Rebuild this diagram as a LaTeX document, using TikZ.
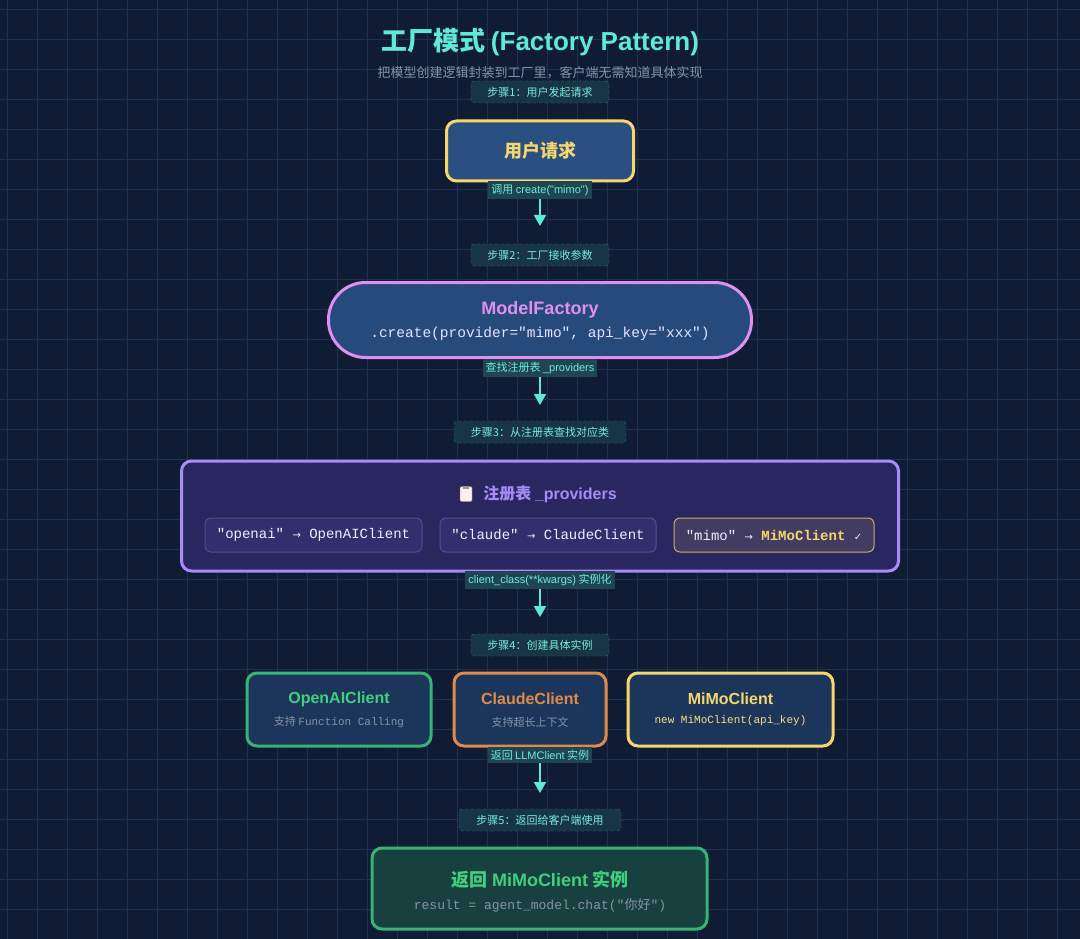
\documentclass[tikz,border=0pt]{standalone}
\usepackage{fontspec}
\setmainfont{Noto Sans CJK SC}
\setsansfont{Noto Sans CJK SC}
\setmonofont{Liberation Mono}
\newfontfamily\cjk{Noto Sans CJK SC}
\newfontfamily\lat{Liberation Sans}
\newfontfamily\djv{DejaVu Sans}
\usetikzlibrary{arrows.meta}
\definecolor{bg}{HTML}{0F1C33}
\definecolor{gridc}{HTML}{1E3152}
\definecolor{teal}{HTML}{5EEAD4}
\definecolor{yel}{HTML}{F5D76E}
\definecolor{vio}{HTML}{A78BFA}
\definecolor{pink}{HTML}{E08FF0}
\definecolor{grn}{HTML}{3ECF7F}
\definecolor{org}{HTML}{E08A4A}
\definecolor{sub}{HTML}{8494A8}
\definecolor{ufill}{HTML}{2A5082}
\definecolor{ffill}{HTML}{264A7C}
\definecolor{cfill}{HTML}{1C355A}
\definecolor{rfill}{HTML}{2A2660}
\definecolor{efill}{HTML}{332F6E}
\definecolor{gfill}{HTML}{17403F}
\tikzset{
 step/.style={draw=teal!45!bg,dashed,fill=teal!12!bg,rounded corners=3,minimum width=#1,minimum height=22,text=teal!85!white,inner sep=0pt,font=\fontsize{11}{11}\selectfont},
 lab/.style={fill=teal!20!bg,text=teal!90!white,minimum height=16,inner sep=3pt,font=\fontsize{11}{11}\selectfont},
 arr/.style={teal,line width=2,-{Triangle[width=12,length=11]}},
 entry/.style={draw=vio!35!rfill,fill=efill,rounded corners=6,line width=1,minimum height=34,inner sep=0pt,font=\fontsize{14}{14}\ttfamily,text=white!85!vio},
 client/.style={draw=#1,line width=3,fill=cfill,rounded corners=10,minimum height=73,inner sep=0pt},
}
\begin{document}
\begin{tikzpicture}[x=1pt,y=-1pt]
\fill[bg] (0,0) rectangle (1080,939);
\useasboundingbox (0,0) rectangle (1080,939);
\foreach \i in {0,...,36} \draw[gridc,line width=0.8] (\i*30+7,0) -- (\i*30+7,939);
\foreach \i in {0,...,31} \draw[gridc,line width=0.8] (0,\i*30+9) -- (1080,\i*30+9);

\node[text=teal] (title) at (540,42) {\fontsize{26}{26}\selectfont\bfseries 工厂模式 {\lat (Factory Pattern)}};
\node[text=sub] (subt) at (540,73) {\fontsize{13}{13}\selectfont 把模型创建逻辑封装到工厂里，客户端无需知道具体实现};

\node[step=138] (s1) at (540,92) {步骤1：用户发起请求};
\node[draw=yel,line width=3,fill=ufill,rounded corners=10,minimum width=187,minimum height=60,text=yel] (user) at (540,151) {\fontsize{18}{18}\selectfont\bfseries 用户请求};
\node[lab] (l1) at (540,190) {调用 {\lat create("mimo")}};
\coordinate (a1) at (540,226);
\draw[arr] (l1.south) -- (a1);

\node[step=138] (s2) at (540,255) {步骤2：工厂接收参数};
\node[draw=pink,line width=3,fill=ffill,rounded corners=37,minimum width=423,minimum height=75] (fac) at (540,320) {};
\node[text=pink] (facT) at (540,310) {\fontsize{18}{18}\selectfont\bfseries\lat ModelFactory};
\node[text=white!90!blue] (facC) at (540,334) {\fontsize{14.5}{14.5}\ttfamily .create(provider="mimo", api\_key="xxx")};
\node[lab] (l2) at (540,368) {查找注册表 {\lat \_providers}};
\coordinate (a2) at (540,405);
\draw[arr] (l2.south) -- (a2);

\node[step=172] (s3) at (540,432) {步骤3：从注册表查找对应类};
\node[draw=vio,line width=3,fill=rfill,rounded corners=10,minimum width=717,minimum height=110] (reg) at (540,516) {};
\node[text=vio] (regT) at (550,494) {\fontsize{16}{16}\selectfont\bfseries 注册表 {\lat\_providers}};
\node[draw=brown!70!black,fill=white!90!brown,minimum width=12,minimum height=15,inner sep=0pt,rounded corners=1] (clip) at (466,494) {};
\node[fill=gray!80,minimum width=6,minimum height=3,inner sep=0pt] (clipc) at (466,487) {};
\node[entry,minimum width=217] (e1) at (313.5,535) {"openai" {\djv\fontsize{10}{10}\selectfont →} OpenAIClient};
\node[entry,minimum width=216] (e2) at (548,535) {"claude" {\djv\fontsize{10}{10}\selectfont →} ClaudeClient};
\node[entry,minimum width=200,draw=yel!80!bg,fill=yel!12!rfill] (e3) at (774,535) {"mimo" {\djv\fontsize{10}{10}\selectfont →} \textcolor{yel}{\bfseries MiMoClient} {\djv\fontsize{10}{10}\selectfont ✓}};
\node[lab] (l3) at (540,580) {{\lat client\_class(**kwargs)} 实例化};
\coordinate (a3) at (540,617);
\draw[arr] (l3.south) -- (a3);

\node[step=138] (s4) at (540,645) {步骤4：创建具体实例};
\node[client=grn!85!bg,minimum width=184] (c1) at (339,709.5) {};
\node[text=grn] at (339,699) {\fontsize{16}{16}\selectfont\bfseries\lat OpenAIClient};
\node[text=sub] at (339,722) {\fontsize{11}{11}\selectfont 支持 {\ttfamily Function Calling}};
\node[client=org,minimum width=152] (c2) at (530,709.5) {};
\node[text=org] at (530,699) {\fontsize{16}{16}\selectfont\bfseries\lat ClaudeClient};
\node[text=sub] at (530,722) {\fontsize{11}{11}\selectfont 支持超长上下文};
\node[client=yel,minimum width=205] (c3) at (730.5,709.5) {};
\node[text=yel] at (730.5,699) {\fontsize{16}{16}\selectfont\bfseries\lat MiMoClient};
\node[text=yel!80!white] at (730.5,721) {\fontsize{11}{11}\ttfamily new MiMoClient(api\_key)};
\node[lab] (l4) at (540,755) {返回 {\lat LLMClient} 实例};
\coordinate (a4) at (540,793);
\draw[arr] (l4.south) -- (a4);

\node[step=162] (s5) at (540,820) {步骤5：返回给客户端使用};
\node[draw=grn!85!bg,line width=3,fill=gfill,rounded corners=10,minimum width=335,minimum height=81] (res) at (539.5,888.5) {};
\node[text=grn] at (540,880) {\fontsize{18}{18}\selectfont\bfseries 返回 {\lat MiMoClient} 实例};
\node[text=sub] at (540,905) {\fontsize{13}{13}\ttfamily result = agent\_model.chat("{\cjk 你好}")};
\end{tikzpicture}
\end{document}
